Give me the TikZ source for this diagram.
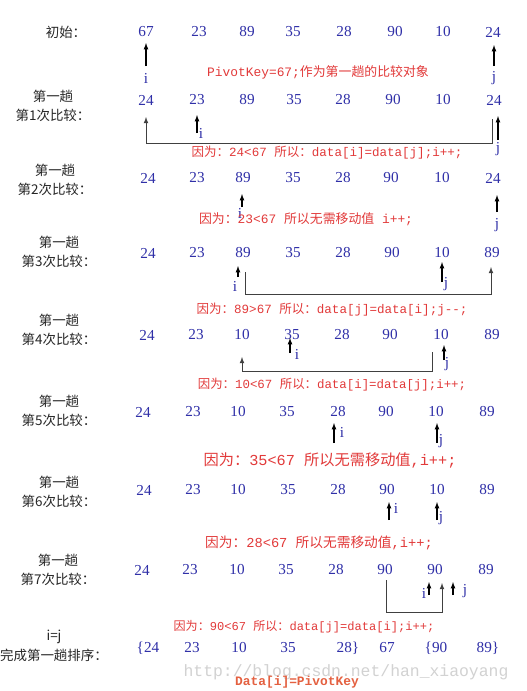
\documentclass[tikz,border=0pt]{standalone}
\usepackage{fontspec}
\setmainfont{Liberation Serif}
\setmonofont{Liberation Mono}
\newfontfamily\cjk{Noto Sans CJK SC}
\newcommand\zh[1]{{\cjk #1}}
\definecolor{numblue}{RGB}{48,48,168}
\definecolor{notered}{RGB}{226,58,58}
\definecolor{keyred}{RGB}{228,96,64}
\definecolor{wmgrey}{RGB}{210,210,210}
\tikzset{
	num/.style={text=numblue, font=\fontsize{13}{13}\selectfont, inner sep=0pt},
	ptrlbl/.style={text=numblue, font=\fontsize{13}{13}\selectfont, inner sep=0pt},
	steplbl/.style={font=\cjk\fontsize{11.5}{16.5}\selectfont, align=center, text=black!85, inner sep=0pt},
	note/.style={text=notered, font=\ttfamily\fontsize{#1}{#1}\selectfont, inner sep=0pt},
	note/.default=11,
	ptr/.style={line width=0.9pt, -latex},
	link/.style={line width=0.8pt, draw=black!75, -latex},
}
\begin{document}
\begin{tikzpicture}[x=0.03cm, y=-0.03cm]
	\useasboundingbox[fill=white] (0,0) rectangle (527,691);
	% watermark
	\node[text=wmgrey, font=\ttfamily\fontsize{14}{14}\selectfont, inner sep=0pt] (wm) at (346,672) {http://blog.csdn.net/han\_xiaoyang};
	% labels on the left
	\node[steplbl] (lab0) at (66,32) {初始：};
	\node[steplbl] (lab1) at (53,106) {第一趟\\第1次比较：};
	\node[steplbl] (lab2) at (55,180) {第一趟\\第2次比较：};
	\node[steplbl] (lab3) at (59,252) {第一趟\\第3次比较：};
	\node[steplbl] (lab4) at (59,330) {第一趟\\第4次比较：};
	\node[steplbl] (lab5) at (59,411) {第一趟\\第5次比较：};
	\node[steplbl] (lab6) at (59,492) {第一趟\\第6次比较：};
	\node[steplbl] (lab7) at (58,570) {第一趟\\第7次比较：};
	\node[steplbl] (lab8) at (54,646) {i=j\\完成第一趟排序：};
	% row 0
	\node[num] (r0a) at (146,32) {67};
	\node[num] (r0b) at (199,32) {23};
	\node[num] (r0c) at (247,32) {89};
	\node[num] (r0d) at (293,32) {35};
	\node[num] (r0e) at (344,32) {28};
	\node[num] (r0f) at (395,32) {90};
	\node[num] (r0g) at (443,32) {10};
	\node[num] (r0h) at (493,32) {24};
	% row 1
	\node[num] (r1a) at (146,100) {24};
	\node[num] (r1b) at (197,100) {23};
	\node[num] (r1c) at (247,100) {89};
	\node[num] (r1d) at (294,100) {35};
	\node[num] (r1e) at (343,100) {28};
	\node[num] (r1f) at (393,100) {90};
	\node[num] (r1g) at (443,100) {10};
	\node[num] (r1h) at (494,100) {24};
	% row 2
	\node[num] (r2a) at (148,178) {24};
	\node[num] (r2b) at (197,178) {23};
	\node[num] (r2c) at (243,178) {89};
	\node[num] (r2d) at (293,178) {35};
	\node[num] (r2e) at (343,178) {28};
	\node[num] (r2f) at (391,178) {90};
	\node[num] (r2g) at (442,178) {10};
	\node[num] (r2h) at (493,178) {24};
	% row 3
	\node[num] (r3a) at (148,253) {24};
	\node[num] (r3b) at (197,253) {23};
	\node[num] (r3c) at (243,253) {89};
	\node[num] (r3d) at (293,253) {35};
	\node[num] (r3e) at (343,253) {28};
	\node[num] (r3f) at (392,253) {90};
	\node[num] (r3g) at (442,253) {10};
	\node[num] (r3h) at (492,253) {89};
	% row 4
	\node[num] (r4a) at (147,335) {24};
	\node[num] (r4b) at (196,335) {23};
	\node[num] (r4c) at (242,335) {10};
	\node[num] (r4d) at (292,335) {35};
	\node[num] (r4e) at (342,335) {28};
	\node[num] (r4f) at (390,335) {90};
	\node[num] (r4g) at (441,335) {10};
	\node[num] (r4h) at (492,335) {89};
	% row 5
	\node[num] (r5a) at (143,412) {24};
	\node[num] (r5b) at (193,412) {23};
	\node[num] (r5c) at (238,412) {10};
	\node[num] (r5d) at (287,412) {35};
	\node[num] (r5e) at (338,412) {28};
	\node[num] (r5f) at (386,412) {90};
	\node[num] (r5g) at (436,412) {10};
	\node[num] (r5h) at (487,412) {89};
	% row 6
	\node[num] (r6a) at (144,490) {24};
	\node[num] (r6b) at (193,490) {23};
	\node[num] (r6c) at (238,490) {10};
	\node[num] (r6d) at (288,490) {35};
	\node[num] (r6e) at (338,490) {28};
	\node[num] (r6f) at (387,490) {90};
	\node[num] (r6g) at (437,490) {10};
	\node[num] (r6h) at (487,490) {89};
	% row 7
	\node[num] (r7a) at (142,570) {24};
	\node[num] (r7b) at (190,570) {23};
	\node[num] (r7c) at (237,570) {10};
	\node[num] (r7d) at (286,570) {35};
	\node[num] (r7e) at (336,570) {28};
	\node[num] (r7f) at (385,570) {90};
	\node[num] (r7g) at (435,570) {90};
	\node[num] (r7h) at (486,570) {89};
	% row 8
	\node[num] (r8a) at (148,648) {\{24};
	\node[num] (r8b) at (192,648) {23};
	\node[num] (r8c) at (239,648) {10};
	\node[num] (r8d) at (288,648) {35};
	\node[num] (r8e) at (348,648) {28\}};
	\node[num] (r8f) at (387,648) {67};
	\node[num] (r8g) at (436,648) {\{90};
	\node[num] (r8h) at (488,648) {89\}};
	% i and j
	\node[ptrlbl] (i0) at (146,78) {i};
	\node[ptrlbl] (j0) at (494,78) {j};
	\node[ptrlbl] (i1) at (201,133) {i};
	\node[ptrlbl] (j1) at (498,149) {j};
	\node[ptrlbl] (i2) at (240,213) {i};
	\node[ptrlbl] (j2) at (497,225) {j};
	\node[ptrlbl] (i3) at (235,286) {i};
	\node[ptrlbl] (j3) at (446,284) {j};
	\node[ptrlbl] (i4) at (297,354) {i};
	\node[ptrlbl] (j4) at (447,364) {j};
	\node[ptrlbl] (i5) at (342,432) {i};
	\node[ptrlbl] (j5) at (441,441) {j};
	\node[ptrlbl] (i6) at (396,508) {i};
	\node[ptrlbl] (j6) at (441,518) {j};
	\node[ptrlbl] (i7) at (424,593) {i};
	\node[ptrlbl] (j7) at (465,591) {j};
	% pointer arrows
	\coordinate (ti0) at (146,66); \coordinate (hi0) at (146,43);
	\coordinate (tj0) at (494,66); \coordinate (hj0) at (494,45);
	\coordinate (ti1) at (197,133); \coordinate (hi1) at (197,115);
	\coordinate (tj1) at (498,140); \coordinate (hj1) at (498,116);
	\coordinate (ti2) at (242,207); \coordinate (hi2) at (242,194);
	\coordinate (tj2) at (497,212); \coordinate (hj2) at (497,195);
	\coordinate (ti3) at (238,277); \coordinate (hi3) at (238,266);
	\coordinate (tj3) at (442,282); \coordinate (hj3) at (442,262);
	\coordinate (ti4) at (290,353); \coordinate (hi4) at (290,338);
	\coordinate (tj4) at (444,360); \coordinate (hj4) at (444,345);
	\coordinate (ti5) at (334,443); \coordinate (hi5) at (334,423);
	\coordinate (tj5) at (437,443); \coordinate (hj5) at (437,423);
	\coordinate (ti6) at (389,520); \coordinate (hi6) at (389,502);
	\coordinate (tj6) at (437,520); \coordinate (hj6) at (437,502);
	\coordinate (ti7) at (429,595); \coordinate (hi7) at (429,582);
	\coordinate (tj7) at (453,595); \coordinate (hj7) at (453,582);
	\draw[ptr] (ti0) -- (hi0);
	\draw[ptr] (tj0) -- (hj0);
	\draw[ptr] (ti1) -- (hi1);
	\draw[ptr] (tj1) -- (hj1);
	\draw[ptr] (ti2) -- (hi2);
	\draw[ptr] (tj2) -- (hj2);
	\draw[ptr] (ti3) -- (hi3);
	\draw[ptr] (tj3) -- (hj3);
	\draw[ptr] (ti4) -- (hi4);
	\draw[ptr] (tj4) -- (hj4);
	\draw[ptr] (ti5) -- (hi5);
	\draw[ptr] (tj5) -- (hj5);
	\draw[ptr] (ti6) -- (hi6);
	\draw[ptr] (tj6) -- (hj6);
	\draw[ptr] (ti7) -- (hi7);
	\draw[ptr] (tj7) -- (hj7);
	% moves of a value
	\coordinate (m1a) at (492,119); \coordinate (m1b) at (492,143);
	\coordinate (m1c) at (146,143); \coordinate (m1d) at (146,117);
	\draw[link] (m1a) -- (m1b) -- (m1c) -- (m1d);
	\coordinate (m3a) at (245,272); \coordinate (m3b) at (245,294);
	\coordinate (m3c) at (491,294); \coordinate (m3d) at (491,267);
	\draw[link] (m3a) -- (m3b) -- (m3c) -- (m3d);
	\coordinate (m4a) at (432,352); \coordinate (m4b) at (432,371);
	\coordinate (m4c) at (242,371); \coordinate (m4d) at (242,357);
	\draw[link] (m4a) -- (m4b) -- (m4c) -- (m4d);
	\coordinate (m7a) at (386,580); \coordinate (m7b) at (386,612);
	\coordinate (m7c) at (442,612); \coordinate (m7d) at (442,583);
	\draw[link] (m7a) -- (m7b) -- (m7c) -- (m7d);
	% notes
	\node[note] (n0) at (318,72) {PivotKey=67;\zh{作为第一趟的比较对象}};
	\node[note=10.7] (n1) at (327,153) {\zh{因为：}24<67 \zh{所以：}data[i]=data[j];i++;};
	\node[note] (n2) at (306,219) {\zh{因为：}23<67 \zh{所以无需移动值} i++;};
	\node[note=10.7] (n3) at (332,310) {\zh{因为：}89>67 \zh{所以：}data[j]=data[i];j-{}-;};
	\node[note=10.6] (n4) at (332,385) {\zh{因为：}10<67 \zh{所以：}data[i]=data[j];i++;};
	\node[note=13] (n5) at (330,460) {\zh{因为：}35<67 \zh{所以无需移动值},i++;};
	\node[note=11.7] (n6) at (319,543) {\zh{因为：}28<67 \zh{所以无需移动值},i++;};
	\node[note=10.3] (n7) at (304,627) {\zh{因为：}90<67 \zh{所以：}data[j]=data[i];i++;};
	\node[text=keyred, font=\ttfamily\bfseries\fontsize{11}{11}\selectfont, inner sep=0pt] (key) at (297,682) {Data[i]=PivotKey};
\end{tikzpicture}
\end{document}
